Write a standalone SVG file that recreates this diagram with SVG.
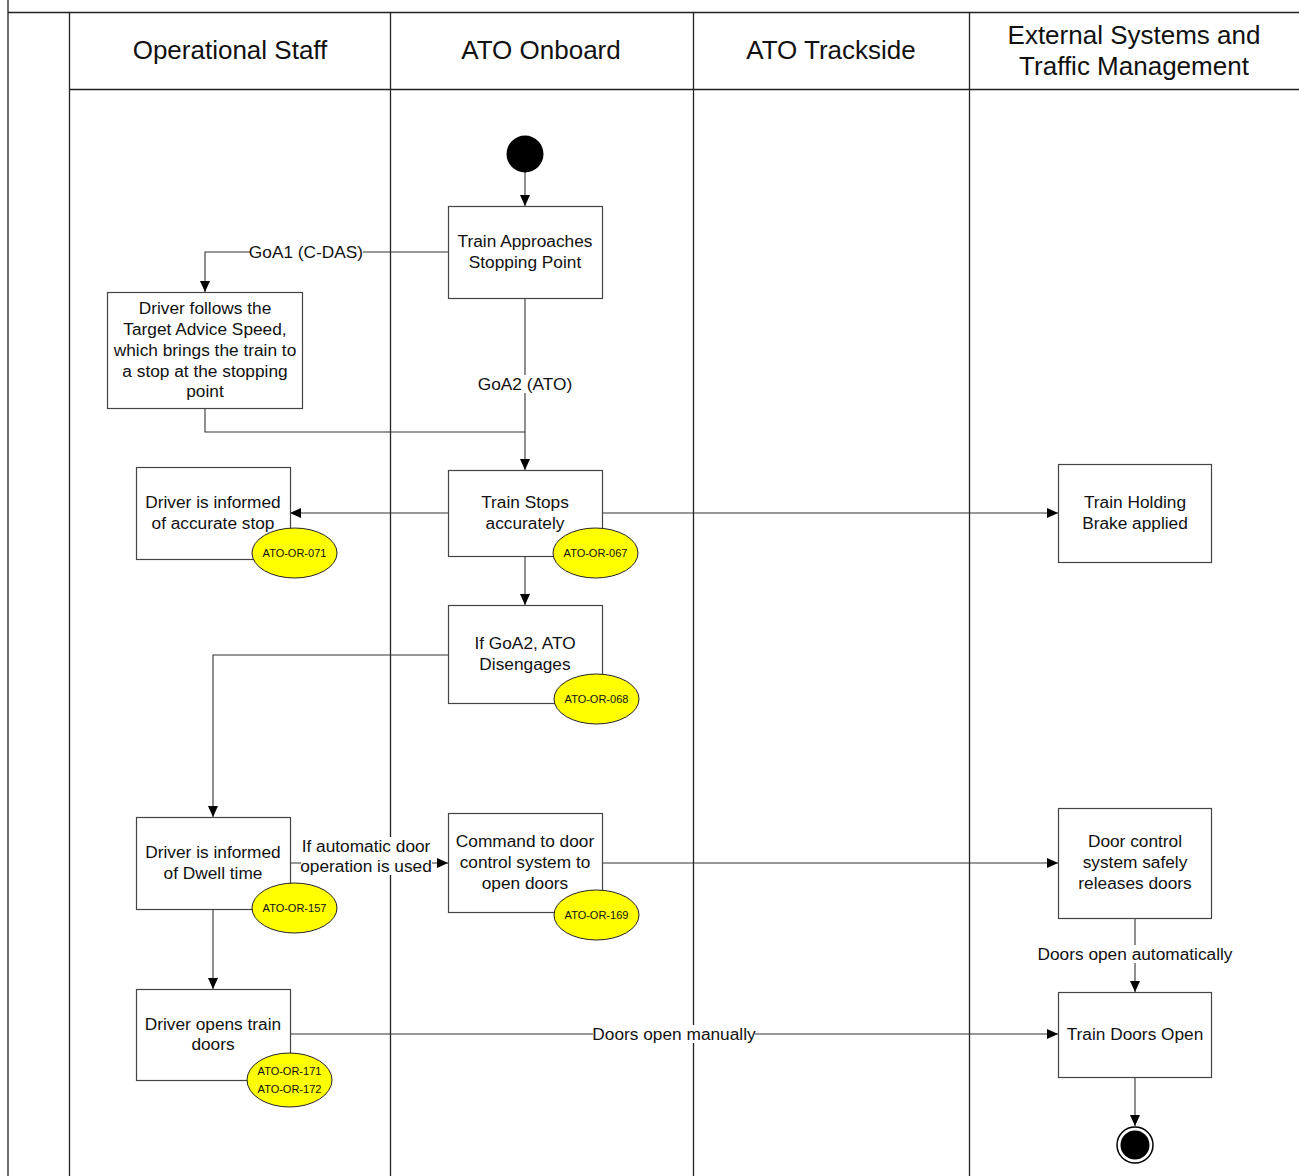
<svg xmlns="http://www.w3.org/2000/svg" width="1299" height="1176" viewBox="0 0 1299 1176">
  <style>
    .lane { stroke: #222; stroke-width: 1.3; fill: none; }
    .box { fill: #fff; stroke: #444; stroke-width: 1.2; }
    .txt { font-family: "Liberation Sans", Arial, sans-serif; font-size: 17.3px; fill: #111; text-anchor: middle; }
    .hdr { font-family: "Liberation Sans", Arial, sans-serif; font-size: 26px; fill: #111; text-anchor: middle; }
    .conn { stroke: #333; stroke-width: 1.1; fill: none; }
    .req { fill: #ffff00; stroke: #222; stroke-width: 1; }
    .reqt { font-family: "Liberation Sans", Arial, sans-serif; font-size: 11px; fill: #111; text-anchor: middle; }
    .lbl { fill: #fff; }
  </style>
  <defs>
    <marker id="arr" markerWidth="12" markerHeight="12" refX="11" refY="5" orient="auto" markerUnits="userSpaceOnUse">
      <path d="M0,0 L11,5 L0,10 Z" fill="#000"/>
    </marker>
  </defs>

  <rect x="0" y="0" width="1299" height="1176" fill="#fff"/>

  <!-- swimlane frame -->
  <g id="swimlanes">
    <line class="lane" x1="8" y1="0" x2="8" y2="1176"/>
    <line class="lane" x1="8" y1="12.5" x2="1299" y2="12.5"/>
    <line class="lane" x1="69" y1="89.5" x2="1299" y2="89.5"/>
    <line class="lane" x1="69.5" y1="12" x2="69.5" y2="1176"/>
    <line class="lane" x1="390.5" y1="12" x2="390.5" y2="1176"/>
    <line class="lane" x1="693.5" y1="12" x2="693.5" y2="1176"/>
    <line class="lane" x1="969.5" y1="12" x2="969.5" y2="1176"/>
    <text class="hdr" x="230" y="59">Operational Staff</text>
    <text class="hdr" x="541" y="59">ATO Onboard</text>
    <text class="hdr" x="831" y="59">ATO Trackside</text>
    <text class="hdr" x="1134" y="44">External Systems and</text>
    <text class="hdr" x="1134" y="75">Traffic Management</text>
  </g>

  <!-- connectors -->
  <g id="connectors">
    <line class="conn" x1="525" y1="172" x2="525" y2="206" marker-end="url(#arr)"/>
    <polyline class="conn" points="448,252 205,252 205,292" marker-end="url(#arr)"/>
    <line class="conn" x1="525" y1="298" x2="525" y2="470" marker-end="url(#arr)"/>
    <polyline class="conn" points="205,408 205,432 525,432"/>
    <line class="conn" x1="448" y1="513" x2="290" y2="513" marker-end="url(#arr)"/>
    <line class="conn" x1="602" y1="513" x2="1058" y2="513" marker-end="url(#arr)"/>
    <line class="conn" x1="525" y1="556" x2="525" y2="605" marker-end="url(#arr)"/>
    <polyline class="conn" points="448,655 213,655 213,817" marker-end="url(#arr)"/>
    <line class="conn" x1="290" y1="863" x2="448" y2="863" marker-end="url(#arr)"/>
    <line class="conn" x1="602" y1="863" x2="1058" y2="863" marker-end="url(#arr)"/>
    <line class="conn" x1="1135" y1="918" x2="1135" y2="992" marker-end="url(#arr)"/>
    <line class="conn" x1="213" y1="909" x2="213" y2="989" marker-end="url(#arr)"/>
    <line class="conn" x1="290" y1="1034" x2="1058" y2="1034" marker-end="url(#arr)"/>
    <line class="conn" x1="1135" y1="1077" x2="1135" y2="1126" marker-end="url(#arr)"/>

    <!-- connector labels -->
    <rect class="lbl" x="250" y="243" width="113" height="18"/>
    <text class="txt" x="306" y="258">GoA1 (C-DAS)</text>
    <rect class="lbl" x="478" y="375" width="95" height="18"/>
    <text class="txt" x="525" y="390">GoA2 (ATO)</text>
    <rect class="lbl" x="301" y="837" width="131" height="38"/>
    <text class="txt" x="366" y="852">If automatic door</text>
    <text class="txt" x="366" y="872">operation is used</text>
    <rect class="lbl" x="1038" y="945" width="194" height="18"/>
    <text class="txt" x="1135" y="960">Doors open automatically</text>
    <rect class="lbl" x="593" y="1025" width="162" height="18"/>
    <text class="txt" x="674" y="1040">Doors open manually</text>
  </g>

  <!-- nodes -->
  <g id="start">
    <circle cx="525" cy="154" r="18.5" fill="#000"/>
  </g>

  <g id="train-approaches">
    <rect class="box" x="448.5" y="206.5" width="154" height="92"/>
    <text class="txt" x="525" y="247">Train Approaches</text>
    <text class="txt" x="525" y="268">Stopping Point</text>
  </g>

  <g id="driver-follows">
    <rect class="box" x="107.5" y="292.5" width="195" height="116"/>
    <text class="txt" x="205" y="314">Driver follows the</text>
    <text class="txt" x="205" y="335">Target Advice Speed,</text>
    <text class="txt" x="205" y="356">which brings the train to</text>
    <text class="txt" x="205" y="377">a stop at the stopping</text>
    <text class="txt" x="205" y="397">point</text>
  </g>

  <g id="driver-informed-stop">
    <rect class="box" x="136.5" y="467.5" width="154" height="92"/>
    <text class="txt" x="213" y="508">Driver is informed</text>
    <text class="txt" x="213" y="529">of accurate stop</text>
    <ellipse class="req" cx="294.5" cy="553" rx="42.5" ry="25"/>
    <text class="reqt" x="294.5" y="557">ATO-OR-071</text>
  </g>

  <g id="train-stops">
    <rect class="box" x="448.5" y="470.5" width="154" height="86"/>
    <text class="txt" x="525" y="508">Train Stops</text>
    <text class="txt" x="525" y="529">accurately</text>
    <ellipse class="req" cx="595.5" cy="553" rx="42.5" ry="25"/>
    <text class="reqt" x="595.5" y="557">ATO-OR-067</text>
  </g>

  <g id="holding-brake">
    <rect class="box" x="1058.5" y="464.5" width="153" height="98"/>
    <text class="txt" x="1135" y="508">Train Holding</text>
    <text class="txt" x="1135" y="529">Brake applied</text>
  </g>

  <g id="ato-disengages">
    <rect class="box" x="448.5" y="605.5" width="154" height="98"/>
    <text class="txt" x="525" y="649">If GoA2, ATO</text>
    <text class="txt" x="525" y="670">Disengages</text>
    <ellipse class="req" cx="596.5" cy="699" rx="42.5" ry="25"/>
    <text class="reqt" x="596.5" y="703">ATO-OR-068</text>
  </g>

  <g id="driver-dwell">
    <rect class="box" x="136.5" y="817.5" width="154" height="92"/>
    <text class="txt" x="213" y="858">Driver is informed</text>
    <text class="txt" x="213" y="879">of Dwell time</text>
    <ellipse class="req" cx="294.5" cy="908" rx="42.5" ry="25"/>
    <text class="reqt" x="294.5" y="912">ATO-OR-157</text>
  </g>

  <g id="command-doors">
    <rect class="box" x="448.5" y="813.5" width="154" height="99"/>
    <text class="txt" x="525" y="847">Command to door</text>
    <text class="txt" x="525" y="868">control system to</text>
    <text class="txt" x="525" y="889">open doors</text>
    <ellipse class="req" cx="596.5" cy="915" rx="42.5" ry="25"/>
    <text class="reqt" x="596.5" y="919">ATO-OR-169</text>
  </g>

  <g id="door-control">
    <rect class="box" x="1058.5" y="808.5" width="153" height="110"/>
    <text class="txt" x="1135" y="847">Door control</text>
    <text class="txt" x="1135" y="868">system safely</text>
    <text class="txt" x="1135" y="889">releases doors</text>
  </g>

  <g id="driver-opens">
    <rect class="box" x="136.5" y="989.5" width="154" height="91"/>
    <text class="txt" x="213" y="1030">Driver opens train</text>
    <text class="txt" x="213" y="1050">doors</text>
    <ellipse class="req" cx="289.5" cy="1080" rx="42.5" ry="27"/>
    <text class="reqt" x="289.5" y="1075">ATO-OR-171</text>
    <text class="reqt" x="289.5" y="1093">ATO-OR-172</text>
  </g>

  <g id="doors-open">
    <rect class="box" x="1058.5" y="992.5" width="153" height="85"/>
    <text class="txt" x="1135" y="1040">Train Doors Open</text>
  </g>

  <g id="end">
    <circle cx="1135" cy="1145" r="18" fill="#fff" stroke="#000" stroke-width="1.5"/>
    <circle cx="1135" cy="1145" r="14.5" fill="#000"/>
  </g>
</svg>
